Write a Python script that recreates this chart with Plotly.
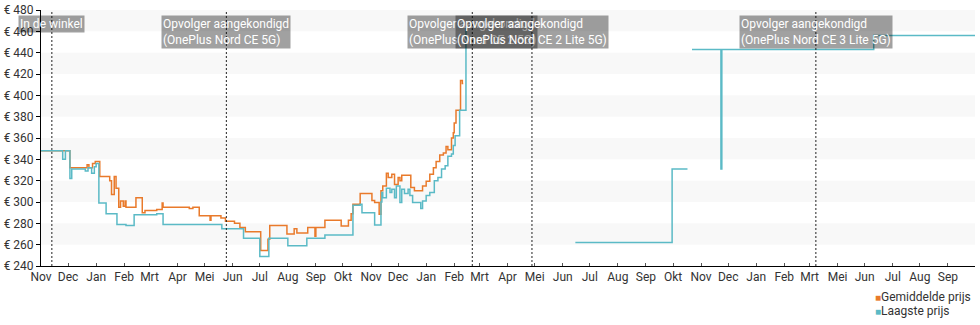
import plotly.graph_objects as go

# ---------------- data ----------------
avg_dates = [
    "2020-11-01", "2020-12-03", "2020-12-22", "2020-12-24", "2020-12-28", "2020-12-31",
    "2021-01-05", "2021-01-16", "2021-01-18", "2021-01-21", "2021-01-23", "2021-01-26",
    "2021-01-28", "2021-01-31", "2021-02-02", "2021-02-03", "2021-02-14", "2021-02-21",
    "2021-02-24", "2021-03-09", "2021-03-15", "2021-03-16", "2021-04-14", "2021-04-18",
    "2021-04-25", "2021-05-07", "2021-05-08", "2021-05-19", "2021-05-24", "2021-06-03",
    "2021-06-09", "2021-06-15", "2021-07-02", "2021-07-10", "2021-07-12", "2021-07-31",
    "2021-08-08", "2021-08-11", "2021-08-23", "2021-08-31", "2021-09-01", "2021-09-11",
    "2021-09-29", "2021-10-07", "2021-10-10", "2021-10-12", "2021-10-20", "2021-11-02",
    "2021-11-05", "2021-11-10", "2021-11-12", "2021-11-14", "2021-11-18", "2021-11-20",
    "2021-11-24", "2021-11-27", "2021-12-01", "2021-12-03", "2021-12-05", "2021-12-10",
    "2021-12-15", "2021-12-19", "2021-12-24", "2021-12-28", "2022-01-01", "2022-01-05",
    "2022-01-09", "2022-01-12", "2022-01-16", "2022-01-20", "2022-01-23", "2022-01-25",
    "2022-01-29", "2022-01-31", "2022-02-01", "2022-02-03", "2022-02-08", "2022-02-10",
    "2022-02-11",
]
avg_prices = [
    348, 332, 335, 332, 336, 338,
    324, 320, 307, 324, 313, 295,
    301, 296, 301, 295, 304, 290,
    292, 293, 299, 295, 294, 295,
    287, 283, 287, 285, 282, 280,
    276, 272, 254.5, 265, 278, 270,
    275, 271, 276, 268, 276, 283,
    277.5, 283, 289, 298, 308, 301.5,
    299.5, 288.5, 310.5, 315, 327, 323,
    326, 316.5, 323, 320, 325, 325,
    313.5, 310.5, 310.5, 315, 319.5, 326,
    332, 338, 344, 346, 352, 349,
    360, 365, 374, 386, 414, 411,
    411,
]

low_dates = [
    "2020-11-01", "2020-11-25", "2020-11-28", "2020-12-03", "2020-12-05", "2020-12-20",
    "2020-12-23", "2020-12-27", "2020-12-30", "2021-01-01", "2021-01-04", "2021-01-12",
    "2021-01-24", "2021-02-03", "2021-02-12", "2021-03-09", "2021-03-16", "2021-05-20",
    "2021-06-13", "2021-07-01", "2021-07-11", "2021-08-01", "2021-08-22", "2021-09-11",
    "2021-10-12", "2021-10-20", "2021-10-22", "2021-11-05", "2021-11-12", "2021-11-13",
    "2021-11-14", "2021-11-18", "2021-11-22", "2021-11-24", "2021-11-27", "2021-11-29",
    "2021-12-03", "2021-12-05", "2021-12-08", "2021-12-12", "2021-12-14", "2021-12-17",
    "2021-12-26", "2021-12-28", "2022-01-01", "2022-01-05", "2022-01-10", "2022-01-14",
    "2022-01-18", "2022-01-22", "2022-01-25", "2022-01-29", "2022-01-31", "2022-02-02",
    "2022-02-07", "2022-02-14", "2022-02-15",
    "2022-06-15", "2022-09-30", "2022-10-17", "2022-10-19",
    "2022-10-22", "2022-11-23", "2022-11-24", "2023-05-11", "2023-08-31",
]
low_prices = [
    348, 340, 348, 322, 331, 329,
    332, 327, 333, 336, 299, 289,
    279, 278, 288, 289, 279, 275,
    266, 249, 266, 259, 266, 269,
    297, 298, 290, 278.5, 300, 309,
    304, 313, 309, 312, 304, 315,
    299.5, 312, 308, 312, 306, 299.5,
    294, 301, 306, 309, 320, 323,
    331, 334, 343, 345, 353, 362,
    386, 465, None,
    262, 331, 331, None,
    443, 331, 443, 456, 456,
]

event_dates = ["2020-11-13", "2021-05-25", "2022-02-21", "2022-04-28", "2023-03-08"]
event_labels = [
    "In de winkel",
    "Opvolger aangekondigd<br>(OnePlus Nord CE 5G)",
    "Opvolger aangekondigd<br>(OnePlus Nord CE 2 5G)",
    "Opvolger aangekondigd<br>(OnePlus Nord CE 2 Lite 5G)",
    "Opvolger aangekondigd<br>(OnePlus Nord CE 3 Lite 5G)",
]

tick_dates = [
    "2020-11-01", "2020-12-01", "2021-01-01", "2021-02-01", "2021-03-01", "2021-04-01",
    "2021-05-01", "2021-06-01", "2021-07-01", "2021-08-01", "2021-09-01", "2021-10-01",
    "2021-11-01", "2021-12-01", "2022-01-01", "2022-02-01", "2022-03-01", "2022-04-01",
    "2022-05-01", "2022-06-01", "2022-07-01", "2022-08-01", "2022-09-01", "2022-10-01",
    "2022-11-01", "2022-12-01", "2023-01-01", "2023-02-01", "2023-03-01", "2023-04-01",
    "2023-05-01", "2023-06-01", "2023-07-01", "2023-08-01",
]
tick_labels = [
    "Nov", "Dec", "Jan", "Feb", "Mrt", "Apr",
    "Mei", "Jun", "Jul", "Aug", "Sep", "Okt",
    "Nov", "Dec", "Jan", "Feb", "Mrt", "Apr",
    "Mei", "Jun", "Jul", "Aug", "Sep", "Okt",
    "Nov", "Dec", "Jan", "Feb", "Mrt", "Mei",
    "Jun", "Jul", "Aug", "Sep",
]

y_ticks = [240, 260, 280, 300, 320, 340, 360, 380, 400, 420, 440, 460, 480]
y_tick_labels = ["€ " + str(v) for v in y_ticks]
band_ranges = [(260, 280), (300, 320), (340, 360), (380, 400), (420, 440), (460, 480)]

series_names = ["Gemiddelde prijs", "Laagste prijs"]

ORANGE = "#e97a2b"
TEAL = "#5bbac6"
FONT = "Roboto"

# ---------------- figure ----------------
fig = go.Figure()

fig.add_trace(go.Scatter(
    x=avg_dates, y=avg_prices, mode="lines", name=series_names[0],
    line=dict(color=ORANGE, width=1.5, shape="hv"),
    showlegend=False, connectgaps=False, hoverinfo="skip"))
fig.add_trace(go.Scatter(
    x=low_dates, y=low_prices, mode="lines", name=series_names[1],
    line=dict(color=TEAL, width=1.5, shape="hv"),
    showlegend=False, connectgaps=False, hoverinfo="skip"))

shapes = []
for lo, hi in band_ranges:
    shapes.append(dict(type="rect", xref="paper", yref="y", x0=0, x1=1, y0=lo, y1=hi,
                       fillcolor="#f8f8f8", line=dict(width=0), layer="below"))
for d in event_dates:
    shapes.append(dict(type="line", xref="x", yref="paper", x0=d, x1=d, y0=0, y1=1,
                       line=dict(color="#222222", width=1, dash="2px,2px"), layer="above"))

annotations = []
for d, t in zip(event_dates, event_labels):
    annotations.append(dict(
        x=d, xref="x", y=0.982, yref="paper", yanchor="top", xanchor="center",
        text=t, showarrow=False, align="left",
        font=dict(family=FONT, size=12, color="white"),
        bgcolor="rgba(0,0,0,0.37)", borderpad=1))

# legend (square swatch + label), bottom right, left-aligned
for i, (nm, col) in enumerate(zip(series_names, [ORANGE, TEAL])):
    annotations.append(dict(
        x=0.891, xref="paper", xanchor="left", y=-0.121 - i * 0.0547, yref="paper", yanchor="middle",
        text="<span style='color:%s;font-size:10px'>■</span>%s" % (col, nm),
        showarrow=False, align="left",
        font=dict(family=FONT, size=12, color="#333333")))

fig.update_layout(
    width=980, height=325,
    margin=dict(l=41, r=5, t=10, b=59, autoexpand=False),
    paper_bgcolor="white", plot_bgcolor="white",
    font=dict(family=FONT, size=12, color="#333333"),
    shapes=shapes, annotations=annotations,
    showlegend=False,
)

fig.update_xaxes(
    type="date", range=["2020-11-01", "2023-08-31"],
    tickmode="array", tickvals=tick_dates, ticktext=tick_labels,
    showgrid=False, zeroline=False, showline=True, linecolor="black", linewidth=1,
    ticks="inside", ticklen=3, tickcolor="#555555", tickangle=0,
    tickfont=dict(family=FONT, size=12, color="#333333"),
)
fig.update_yaxes(
    range=[240, 480], tickmode="array", tickvals=y_ticks, ticktext=y_tick_labels,
    showgrid=False, zeroline=False, showline=True, linecolor="black", linewidth=1,
    ticks="outside", ticklen=4, tickcolor="black",
    tickfont=dict(family=FONT, size=12, color="#333333"),
)

fig.write_html("out.html")
